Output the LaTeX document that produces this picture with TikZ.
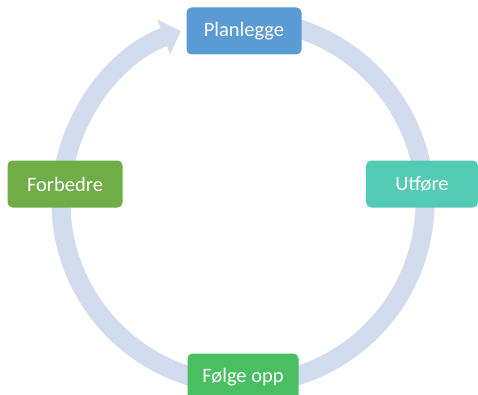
\documentclass[tikz,border=0pt]{standalone}
\usepackage{fontspec}
\setmainfont{Carlito}
\usetikzlibrary{arrows.meta,positioning,calc}
\definecolor{ringblue}{RGB}{209,220,239}
\definecolor{planblue}{RGB}{91,155,213}
\definecolor{utteal}{RGB}{84,203,180}
\definecolor{folgreen}{RGB}{73,191,98}
\definecolor{forgreen}{RGB}{112,173,71}
\tikzset{
  fase/.style={rounded corners=5pt, text=white, minimum width=115pt,
    minimum height=47pt, inner sep=0pt, font=\fontsize{20.5}{24}\selectfont}
}

\begin{document}
\begin{tikzpicture}[x=1pt,y=1pt]
        \clip (0,0) rectangle (478,394);
        \coordinate (c) at (243,192);
        % sirkelpil bak fasene
        \draw[ringblue, line width=19pt, -{Triangle[width=36pt,length=18pt]}]
          ($(c)+(80:182)$) arc[start angle=80, end angle=-250, radius=182pt];
        \node[fase, fill=planblue] (plan) at (244,363) {Planlegge};
        \node[fase, fill=utteal, minimum width=112pt] (utfor) at (422,210) {Utføre};
        \node[fase, fill=folgreen, minimum width=111pt] (folg) at (243,17) {Følge opp};
        \node[fase, fill=forgreen] (forb) at (65,210) {Forbedre};
\end{tikzpicture}
\end{document}
